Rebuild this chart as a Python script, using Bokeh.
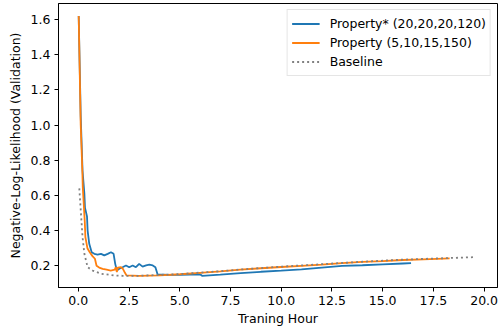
from bokeh.plotting import figure
from bokeh.embed import file_html
from bokeh.resources import INLINE
from bokeh.models import FixedTicker, PrintfTickFormatter, Legend, LegendItem, Range1d

# ---- data ----
blue_x = [0.02, 0.12, 0.21, 0.30, 0.33, 0.43, 0.46, 0.54, 0.66, 0.79, 0.95, 1.12, 1.28, 1.45, 1.61, 1.74,
          1.82, 1.90, 2.02, 2.18, 2.35, 2.51, 2.68, 2.84, 3.00, 3.17, 3.34, 3.50, 3.67, 3.80, 3.91,
          4.5, 5.0, 5.5, 6.0, 6.1, 7.0, 8.0, 9.0, 10.0, 11.0, 12.0, 13.0, 14.0, 15.0, 16.0, 16.4]
blue_y = [1.62, 1.05, 0.74, 0.61, 0.53, 0.48, 0.40, 0.325, 0.277, 0.268, 0.264, 0.268, 0.259, 0.268, 0.277, 0.268,
          0.211, 0.173, 0.183, 0.192, 0.202, 0.192, 0.202, 0.192, 0.211, 0.195, 0.202, 0.206, 0.202, 0.192, 0.151,
          0.148, 0.148, 0.150, 0.152, 0.143, 0.150, 0.158, 0.166, 0.172, 0.180, 0.190, 0.199, 0.203, 0.208, 0.213, 0.215]

orange_x = [0.02, 0.12, 0.20, 0.22, 0.27, 0.32, 0.35, 0.45, 0.55, 0.70, 0.82, 0.90, 1.03, 1.20, 1.40, 1.60,
            1.80, 1.85, 1.90, 1.95, 2.10, 2.20, 2.30, 2.38, 3.0, 4.0, 5.0, 6.0, 7.0, 8.0, 9.0, 10.0,
            11.0, 12.0, 13.0, 14.0, 15.0, 16.0, 17.0, 18.0, 18.3]
orange_y = [1.62, 1.00, 0.74, 0.65, 0.55, 0.45, 0.363, 0.30, 0.28, 0.255, 0.24, 0.20, 0.19, 0.183, 0.178, 0.173,
            0.178, 0.192, 0.164, 0.19, 0.192, 0.183, 0.16, 0.145, 0.143, 0.146, 0.152, 0.160, 0.168, 0.178, 0.186, 0.193,
            0.200, 0.207, 0.215, 0.222, 0.227, 0.233, 0.237, 0.241, 0.242]

base_x = [0.05, 0.13, 0.21, 0.30, 0.46, 0.71, 1.12, 1.77, 2.2, 3.0, 4.0, 5.0, 6.0, 7.0, 8.0, 9.0, 10.0,
          11.0, 12.0, 13.0, 14.0, 15.0, 16.0, 17.0, 18.0, 19.0, 19.5]
base_y = [0.64, 0.50, 0.363, 0.268, 0.192, 0.173, 0.155, 0.145, 0.143, 0.143, 0.148, 0.153, 0.161, 0.169, 0.179,
          0.187, 0.195, 0.202, 0.209, 0.216, 0.223, 0.229, 0.235, 0.239, 0.243, 0.247, 0.249]

x_ticks = [0.0, 2.5, 5.0, 7.5, 10.0, 12.5, 15.0, 17.5, 20.0]
y_ticks = [0.2, 0.4, 0.6, 0.8, 1.0, 1.2, 1.4, 1.6]

labels = ["Property* (20,20,20,120)", "Property (5,10,15,150)", "Baseline"]

FONT = "DejaVu Sans"
FS = "12.5px"

p = figure(width=499, height=336, output_backend="svg", toolbar_location=None,
           x_range=Range1d(-0.975, 20.66), y_range=Range1d(0.0766, 1.691))
p.min_border_left = 58
p.min_border_right = 2
p.min_border_top = 3
p.min_border_bottom = 49
p.background_fill_color = "white"
p.border_fill_color = "white"
p.outline_line_color = "black"
p.outline_line_width = 1
p.xgrid.visible = False
p.ygrid.visible = False

r_blue = p.line(blue_x, blue_y, line_color="#1f77b4", line_width=1.8)
r_orange = p.line(orange_x, orange_y, line_color="#ff7f0e", line_width=1.8)
r_base = p.line(base_x, base_y, line_color="#808080", line_width=1.8, line_dash="2 3")

for ax in (p.xaxis[0], p.yaxis[0]):
    ax.major_tick_in = 0
    ax.major_tick_out = 4
    ax.minor_tick_line_color = None
    ax.axis_line_color = "black"
    ax.major_tick_line_color = "black"
    ax.major_label_text_font = FONT
    ax.major_label_text_font_size = FS
    ax.major_label_text_color = "black"
    ax.axis_label_text_font = FONT
    ax.axis_label_text_font_size = FS
    ax.axis_label_text_font_style = "normal"
    ax.axis_label_text_color = "black"

p.xaxis[0].ticker = FixedTicker(ticks=x_ticks)
p.xaxis[0].formatter = PrintfTickFormatter(format="%.1f")
p.xaxis[0].axis_label = "Traning Hour"
p.xaxis[0].axis_label_standoff = 3
p.xaxis[0].major_label_standoff = 4
p.yaxis[0].ticker = FixedTicker(ticks=y_ticks)
p.yaxis[0].formatter = PrintfTickFormatter(format="%.1f")
p.yaxis[0].axis_label = "Negative-Log-Likelihood (Validation)"
p.yaxis[0].axis_label_standoff = 5
p.yaxis[0].major_label_standoff = 4

legend = Legend(items=[LegendItem(label=labels[0], renderers=[r_blue]),
                       LegendItem(label=labels[1], renderers=[r_orange]),
                       LegendItem(label=labels[2], renderers=[r_base])],
                location="top_right")
legend.label_text_font = FONT
legend.label_text_font_size = FS
legend.label_text_color = "black"
legend.border_line_color = "#cccccc"
legend.border_line_width = 1
legend.background_fill_alpha = 0.8
legend.margin = 6
legend.padding = 4
legend.spacing = 0
legend.glyph_width = 28
legend.glyph_height = 19
legend.label_standoff = 10
legend.label_height = 19
p.add_layout(legend)

open("out.html", "w").write(file_html(p, INLINE))
